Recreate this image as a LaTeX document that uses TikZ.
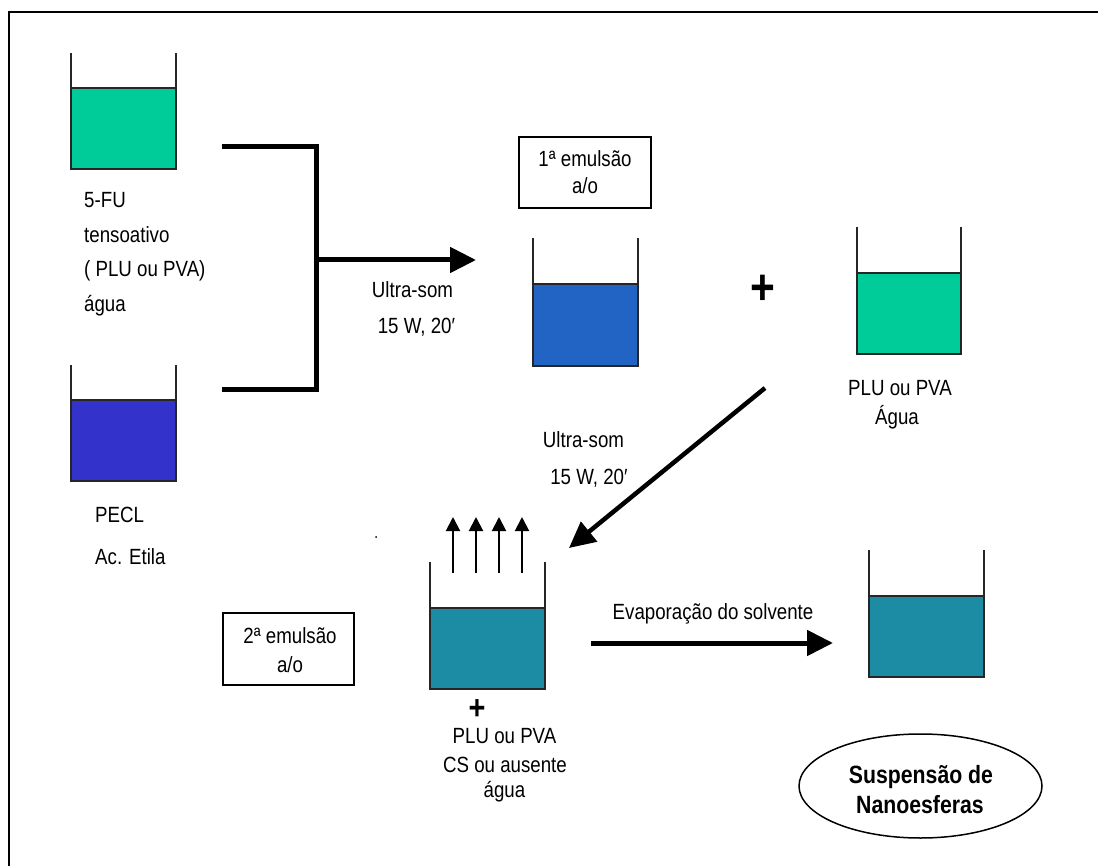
\documentclass[tikz,border=0pt]{standalone}
\usepackage{fontspec}
\setmainfont{Liberation Sans}[FakeStretch=0.85]
\usetikzlibrary{arrows.meta,shapes.geometric}
\definecolor{liqgreen}{RGB}{0,204,153}
\definecolor{liqblue}{RGB}{51,51,204}
\definecolor{emblue}{RGB}{34,100,196}
\definecolor{emteal}{RGB}{28,140,165}
\tikzset{
  wall/.style={line width=1.5pt, draw=black!85},
  txt/.style={inner sep=0pt, anchor=base, font=\fontsize{22}{26}\selectfont},
  txtl/.style={txt, anchor=base west},
  bold/.style={inner sep=0pt, anchor=base, font=\bfseries\fontsize{25}{30}\selectfont},
  plusbig/.style={inner sep=0pt, font=\bfseries\fontsize{50}{50}\selectfont},
  plussmall/.style={inner sep=0pt, anchor=base, text height=0pt, text depth=0pt, font=\bfseries\fontsize{34}{34}\selectfont},
  heavy/.style={line width=5pt, line join=miter},
  bigarrow/.style={line width=5pt, -{Triangle[length=26pt,width=25pt]}},
  vapour/.style={line width=2pt, -{Triangle[length=14pt,width=14pt]}},
  labelbox/.style={draw, line width=1.5pt, minimum width=132pt, minimum height=71pt, inner sep=0pt},
}
\newcommand{\beakerdraw}[6]{%
  \fill[#6] (#1,#4) rectangle (#2,#5);
  \draw[wall] (#1,#3) -- (#1,#5) -- (#2,#5) -- (#2,#3);
  \draw[wall] (#1,#4) -- (#2,#4);
}
\begin{document}
\begin{tikzpicture}[x=1pt,y=-1pt]
\useasboundingbox (0,0) rectangle (1098,866);
\fill[white] (0,0) rectangle (1098,866);
% outer frame
\draw[line width=2pt] (8.5,866) -- (8.5,12) -- (1098,12);

% beakers
\beakerdraw{71}{176}{53}{88}{169}{liqgreen}
\beakerdraw{71}{176}{365}{400}{481}{liqblue}
\beakerdraw{533}{638}{238}{284}{366}{emblue}
\beakerdraw{857}{961}{227}{273}{354}{liqgreen}
\beakerdraw{430}{545}{562}{608}{689}{emteal}
\beakerdraw{869}{984}{550}{596}{677}{emteal}

% coordinates
\coordinate (brTop) at (222,147);
\coordinate (brTopC) at (316,147);
\coordinate (brBot) at (222,390);
\coordinate (brBotC) at (316,390);
\coordinate (brMid) at (316,260);
\coordinate (b3in) at (476,260);
\coordinate (diagS) at (765,388);
\coordinate (diagE) at (569,548);
\coordinate (evS) at (591,643);
\coordinate (evE) at (833,643);

% bracket and arrows
\draw[heavy] (brTop) -- (brTopC) -- (brBotC) -- (brBot);
\draw[bigarrow] (brMid) -- (b3in);
\draw[bigarrow, line width=4.5pt] (diagS) -- (diagE);
\draw[bigarrow] (evS) -- (evE);

% vapour arrows
\foreach \xx [count=\i] in {453,476,499,522}{
  \coordinate (vs\i) at (\xx,573);
  \coordinate (ve\i) at (\xx,517);
  \draw[vapour] (vs\i) -- (ve\i);
}

% left texts
\node[txtl] (t1) at (84,208) {5-FU};
\node[txtl] (t2) at (84,243) {tensoativo};
\node[txtl] (t3) at (84,277) {( PLU ou PVA)};
\node[txtl] (t4) at (84,312) {água};
\node[txtl] (t5) at (95,522) {PECL};
\node[txtl] (t6) at (95,564) {Ac. Etila};

% ultrasound labels
\node[txt] (u1) at (412.5,298) {Ultra-som};
\node[txt] (u2) at (416.5,334) {15 W, 20′};
\node[txt] (u3) at (583.5,448) {Ultra-som};
\node[txt] (u4) at (589,484) {15 W, 20′};

% boxes
\node[labelbox] (box1) at (585,172.5) {};
\node[txt] (b1a) at (585,167) {1ª emulsão};
\node[txt] (b1b) at (585,194) {a/o};
\node[labelbox, minimum width=131pt, minimum height=72pt] (box2) at (288.5,649) {};
\node[txt] (b2a) at (290,643) {2ª emulsão};
\node[txt] (b2b) at (290,672) {a/o};

% plus signs
\node[plusbig] (plus1) at (763,290) {+};
\node[plussmall] (plus2) at (477,719) {+};

% right beaker label
\node[txt] (r1) at (900,396) {PLU ou PVA};
\node[txt] (r2) at (897,425) {Água};

% lower labels
\node[txt] (l1) at (504.5,743) {PLU ou PVA};
\node[txt] (l2) at (505,772) {CS ou ausente};
\node[txt] (l3) at (504.5,797) {água};

% evaporation
\node[txt] (ev) at (713,619) {Evaporação do solvente};

% stray dot
\fill (376,537) circle (1pt);

% final ellipse
\node[draw, ellipse, line width=1.5pt, minimum width=243pt, minimum height=104pt, inner sep=0pt] (susp) at (920.5,786) {};
\node[bold] (s1) at (921,783) {Suspensão de};
\node[bold] (s2) at (920,813) {Nanoesferas};
\end{tikzpicture}
\end{document}
